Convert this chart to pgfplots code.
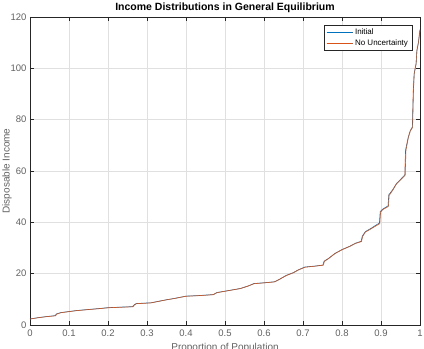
\documentclass[border=0pt]{standalone}
\usepackage{pgfplots}
\pgfplotsset{compat=1.18}
\usepackage{fontspec}
\setmainfont{Liberation Sans}
\definecolor{mblue}{rgb}{0,0.447,0.741}
\definecolor{morange}{rgb}{0.85,0.325,0.098}
\definecolor{axgray}{rgb}{0.15,0.15,0.15}
\definecolor{tickgray}{rgb}{0.38,0.38,0.38}
\begin{document}
\begin{tikzpicture}
\begin{axis}[
  scale only axis,
  width=390bp, height=308bp,
  xmin=0, xmax=1, ymin=0, ymax=120,
  xtick={0,0.1,0.2,0.3,0.4,0.5,0.6,0.7,0.8,0.9,1},
  xticklabels={0,0.1,0.2,0.3,0.4,0.5,0.6,0.7,0.8,0.9,1},
  ytick={0,20,40,60,80,100,120},
  grid=major,
  major grid style={draw=black!12, line width=0.5bp},
  axis line style={draw=axgray, line width=0.6bp},
  tick style={draw=axgray, line width=0.5bp},
  tick align=inside,
  major tick length=4bp,
  tick label style={font=\fontsize{9.5bp}{11bp}\selectfont, text=tickgray},
  /pgf/number format/assume math mode=true,
  xticklabel style={yshift=-1.5bp},
  title={\textbf{Income Distributions in General Equilibrium}},
  title style={font=\fontsize{10.5bp}{12bp}\selectfont, yshift=-5bp},
  xlabel={Proportion of Population},
  ylabel={Disposable Income},
  label style={font=\fontsize{10bp}{12bp}\selectfont, text=tickgray},
  ylabel style={yshift=-8bp},
  xlabel style={yshift=0bp},
  legend style={font=\fontsize{8bp}{9.5bp}\selectfont, draw=axgray, line width=0.5bp, at={(0.98,0.975)}, anchor=north east, row sep=-1bp, inner sep=2bp},
  legend cell align=left,
  legend image code/.code={\draw[#1] (0bp,0bp) -- (26bp,0bp);},
]
\addplot[mblue, line width=0.6bp] coordinates {
(0,2.35) (0.02,2.85) (0.04,3.25) (0.065,3.65) (0.067,4.25) (0.079,4.85) (0.1,5.25) (0.12,5.65) (0.15,6.05) (0.18,6.45) (0.2,6.75) (0.23,6.95) (0.263,7.15) (0.267,7.85) (0.272,8.35) (0.31,8.65) (0.33,9.25) (0.35,9.85) (0.37,10.35) (0.40,11.25) (0.43,11.45) (0.47,11.85) (0.479,12.65) (0.51,13.45) (0.54,14.25) (0.56,15.25) (0.574,16.15) (0.6,16.45) (0.627,16.85) (0.64,17.85) (0.657,19.35) (0.675,20.4) (0.688,21.5) (0.705,22.6) (0.73,22.95) (0.751,23.35) (0.754,24.85) (0.765,25.9) (0.782,27.9) (0.80,29.4) (0.82,30.7) (0.835,31.9) (0.849,32.6) (0.852,34.6) (0.86,36.4) (0.875,37.7) (0.888,39.0) (0.896,39.7) (0.898,44.2) (0.905,45.2) (0.918,46.4) (0.920,50.7) (0.93,52.7) (0.94,55.2) (0.95,56.7) (0.961,58.5) (0.963,68.2) (0.97,73.2) (0.975,75.7) (0.9805,77.2) (0.9825,90.2) (0.985,97.9) (0.99,101.9) (0.992,106.9) (0.996,110.2) (1.0,115.1)
};
\addlegendentry{Initial}
\addplot[morange, line width=0.6bp] coordinates {
(0,2.3) (0.02,2.8) (0.04,3.2) (0.066,3.6) (0.068,4.2) (0.08,4.8) (0.1,5.2) (0.12,5.6) (0.15,6.0) (0.18,6.4) (0.2,6.7) (0.23,6.9) (0.264,7.1) (0.268,7.8) (0.273,8.3) (0.31,8.6) (0.33,9.2) (0.35,9.8) (0.37,10.3) (0.40,11.2) (0.43,11.4) (0.47,11.8) (0.48,12.6) (0.51,13.4) (0.54,14.2) (0.56,15.2) (0.575,16.1) (0.6,16.4) (0.628,16.8) (0.64,17.8) (0.658,19.3) (0.675,20.3) (0.688,21.4) (0.705,22.5) (0.73,22.9) (0.752,23.3) (0.755,24.8) (0.765,25.8) (0.782,27.8) (0.80,29.3) (0.82,30.6) (0.835,31.8) (0.85,32.5) (0.853,34.5) (0.86,36.2) (0.875,37.5) (0.889,38.8) (0.897,39.5) (0.899,44.0) (0.905,45) (0.919,46.2) (0.921,50.5) (0.93,52.5) (0.94,55) (0.95,56.5) (0.962,58.3) (0.964,68) (0.97,73) (0.975,75.5) (0.981,77) (0.983,90) (0.985,97.7) (0.99,101.7) (0.992,106.8) (0.996,110) (1.0,115)
};
\addlegendentry{No Uncertainty}
\end{axis}
\pgfresetboundingbox
\path[use as bounding box] (-30bp,-24bp) rectangle (394bp,325bp);
\end{tikzpicture}
\end{document}
